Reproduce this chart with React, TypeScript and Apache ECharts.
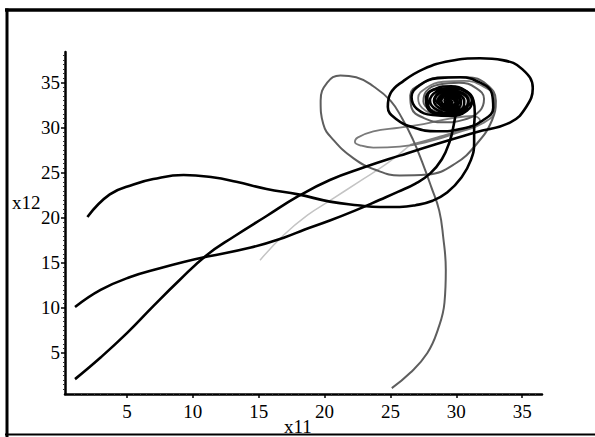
import React, { useEffect, useRef } from "react";
import * as echarts from "echarts";

// Tick values
const xTickValues = [5, 10, 15, 20, 25, 30, 35];
const yTickValues = [5, 10, 15, 20, 25, 30, 35];
const xMinorTicks = [1, 1.5, 2, 2.5, 3, 3.5, 4, 4.5, 5.5, 6, 6.5, 7, 7.5, 8, 8.5, 9, 9.5, 10.5, 11, 11.5, 12, 12.5, 13, 13.5, 14, 14.5, 15.5, 16, 16.5, 17, 17.5, 18, 18.5, 19, 19.5, 20.5, 21, 21.5, 22, 22.5, 23, 23.5, 24, 24.5, 25.5, 26, 26.5, 27, 27.5, 28, 28.5, 29, 29.5, 30.5, 31, 31.5, 32, 32.5, 33, 33.5, 34, 34.5, 35.5, 36];
const yMinorTicks = [1, 1.5, 2, 2.5, 3, 3.5, 4, 4.5, 5.5, 6, 6.5, 7, 7.5, 8, 8.5, 9, 9.5, 10.5, 11, 11.5, 12, 12.5, 13, 13.5, 14, 14.5, 15.5, 16, 16.5, 17, 17.5, 18, 18.5, 19, 19.5, 20.5, 21, 21.5, 22, 22.5, 23, 23.5, 24, 24.5, 25.5, 26, 26.5, 27, 27.5, 28, 28.5, 29, 29.5, 30.5, 31, 31.5, 32, 32.5, 33, 33.5, 34, 34.5, 35.5, 36, 36.5, 37, 37.5, 38];

// Trajectories (x11, x12)
const trajectoryA: [number, number][] = [
  [2.0, 20.1], [3.7, 22.6], [5.5, 23.7], [7.0, 24.3], [9.3, 24.75], [11.5, 24.5], [13.3, 24.0],
  [15.6, 23.2], [18.0, 22.6], [20.4, 21.8], [22.5, 21.4], [24.2, 21.2], [25.7, 21.2], [26.9, 21.4],
  [28.2, 21.9], [29.3, 22.8], [30.4, 24.5], [31.1, 26.4], [31.35, 28.3], [31.35, 30.1], [31.4, 31.6],
  [31.3, 33.0], [30.7, 34.1], [29.6, 34.6], [28.4, 34.3], [27.7, 33.3], [27.8, 32.2], [28.6, 31.5],
  [29.7, 31.4], [30.6, 32.0], [30.9, 33.0], [30.4, 33.8], [29.5, 34.0], [28.8, 33.5], [28.7, 32.7],
  [29.3, 32.3], [29.9, 32.6], [30.0, 33.2], [29.6, 33.4], [29.3, 33.0], [29.6, 32.8],
];

const trajectoryB: [number, number][] = [
  [1.06, 10.1], [3.0, 12.0], [5.2, 13.4], [7.5, 14.4], [9.3, 15.1], [11.1, 15.7], [14.4, 16.7],
  [16.9, 17.8], [18.5, 18.7], [20.4, 19.7], [22.3, 20.8], [24.2, 22.0], [25.6, 22.9], [26.9, 23.8],
  [28.0, 24.9], [28.9, 26.5], [29.5, 28.5], [29.8, 30.3], [30.0, 32.0], [30.1, 33.4],
  [29.6, 34.3], [28.5, 34.3], [27.8, 33.4], [27.9, 32.3], [28.7, 31.6], [29.8, 31.6], [30.7, 32.3],
  [31.2, 33.0], [30.7, 34.0], [29.6, 34.4], [28.5, 34.0], [28.0, 33.0], [28.5, 32.0], [29.6, 31.6],
  [30.7, 32.0], [30.9, 33.0], [30.5, 33.8], [29.6, 34.15], [28.7, 33.8], [28.3, 33.0], [28.7, 32.2],
  [29.6, 31.85], [30.5, 32.2], [30.6, 33.0], [30.3, 33.6], [29.6, 33.9], [28.9, 33.6], [28.6, 33.0],
  [28.9, 32.4], [29.6, 32.1], [30.3, 32.4], [30.35, 33.0], [30.1, 33.5], [29.6, 33.7], [29.1, 33.5],
  [28.85, 33.0], [29.1, 32.5], [29.6, 32.3], [30.1, 32.5], [30.1, 33.0], [29.95, 33.3], [29.6, 33.45],
  [29.25, 33.3], [29.1, 33.0], [29.25, 32.7], [29.6, 32.55], [29.95, 32.7], [29.9, 33.0], [29.6, 33.25],
  [29.3, 33.0], [29.6, 32.75], [29.75, 32.95],
];

const trajectoryC: [number, number][] = [
  [1.06, 2.1], [3.0, 4.5], [5.0, 7.2], [7.0, 10.2], [9.0, 13.1], [11.0, 15.8], [13.1, 17.9],
  [15.6, 20.2], [18.0, 22.4], [20.4, 24.2], [23.0, 25.6], [25.7, 26.9], [28.5, 28.2], [31.5, 29.5],
  [34.1, 30.6], [35.3, 32.3], [35.8, 34.4], [35.0, 36.5], [33.5, 37.5], [31.8, 37.7], [29.5, 37.4],
  [27.5, 36.5], [26.0, 35.2], [25.0, 33.8], [24.8, 32.3], [25.4, 31.0], [26.8, 30.0], [28.5, 29.6],
  [30.5, 29.9], [32.0, 30.8], [32.8, 32.2], [32.7, 33.8], [31.8, 35.0], [30.3, 35.6], [28.6, 35.5],
  [27.2, 34.7], [26.6, 33.4], [27.0, 32.1], [28.2, 31.4], [29.6, 31.3], [30.8, 31.9], [31.2, 33.0],
  [30.8, 34.0], [29.8, 34.4], [28.8, 34.0], [28.4, 33.2], [28.9, 32.5], [29.7, 32.4], [30.3, 33.0],
  [30.0, 33.6], [29.5, 33.5], [29.4, 33.1], [29.7, 33.0],
];

const trajectoryD: [number, number][] = [
  [25.1, 1.1], [26.5, 2.8], [27.8, 5.0], [28.6, 7.6], [29.1, 10.6], [29.2, 14.2], [29.0, 17.9],
  [28.7, 20.8], [28.1, 23.4], [27.4, 26.2], [26.7, 28.7], [25.9, 31.0], [25.0, 33.0], [23.7, 34.6],
  [22.4, 35.6], [21.2, 35.8], [20.2, 35.0], [19.7, 33.0], [19.9, 30.4], [20.7, 28.6], [22.2, 26.6],
  [23.9, 25.3], [25.7, 24.7], [27.8, 24.8], [29.9, 26.0], [31.6, 28.3], [32.7, 30.8], [33.0, 33.0],
  [32.3, 34.8], [30.8, 35.6], [29.0, 35.6], [27.4, 34.9], [26.5, 33.6], [26.6, 32.2], [27.5, 31.1],
  [29.0, 30.6], [30.6, 30.9], [31.8, 31.9], [32.1, 33.2], [31.5, 34.4], [30.2, 35.0], [28.7, 34.8],
  [27.7, 34.0], [27.5, 32.9], [28.1, 32.0], [29.2, 31.6], [30.4, 31.9], [31.0, 32.8], [30.7, 33.7],
  [29.8, 34.1], [28.9, 33.8], [28.6, 33.1], [29.0, 32.5], [29.7, 32.4], [30.2, 32.9], [29.9, 33.4],
  [29.4, 33.3], [29.4, 32.9], [29.7, 32.9],
];

const trajectoryE: [number, number][] = [
  [15.1, 15.3], [16.9, 18.1], [18.7, 20.3], [20.4, 21.9], [22.6, 24.0], [24.8, 26.1], [26.5, 28.1],
];

const trajectoryE2: [number, number][] = [
  [26.5, 28.1], [28.5, 28.9], [30.4, 29.8], [31.8, 30.8], [31.3, 31.3], [29.5, 31.0], [27.5, 30.4],
  [25.7, 30.0], [23.7, 29.6], [22.5, 28.9], [22.3, 28.4], [22.8, 28.0], [23.7, 27.8], [25.7, 27.9],
  [28.0, 28.5], [30.2, 29.5], [32.0, 30.5], [32.9, 31.9], [32.9, 33.4], [32.0, 34.6], [30.6, 35.2],
  [29.0, 35.1], [27.7, 34.4], [27.1, 33.3], [27.4, 32.2], [28.4, 31.6], [29.7, 31.6], [30.7, 32.2],
  [31.0, 33.1], [30.5, 33.9], [29.6, 34.1], [28.9, 33.6], [28.8, 32.9], [29.3, 32.5], [29.9, 32.7],
  [30.0, 33.2], [29.6, 33.3], [29.5, 33.0],
];

const FONT = "Liberation Serif";

export default function App() {
  const ref = useRef<HTMLDivElement>(null);
  useEffect(() => {
    if (!ref.current) return;
    const chart = echarts.init(ref.current, undefined, { renderer: "svg" });
    const line = (data: [number, number][], color: string, width: number, z: number) => ({
      type: "line",
      data,
      showSymbol: false,
      symbol: "none",
      smooth: 0.45,
      z,
      lineStyle: { color, width },
    });
    chart.setOption({
      animation: false,
      backgroundColor: "#ffffff",
      grid: { left: 65, right: 53, top: 52, bottom: 43 },
      xAxis: [
        {
          type: "value",
          min: 0.3,
          max: 36.5,
          axisLine: { show: true, onZero: false, lineStyle: { color: "#000", width: 2.5 } },
          axisTick: { show: true, customValues: xTickValues, length: 4, lineStyle: { color: "#000", width: 1.5 } },
          axisLabel: { customValues: xTickValues, color: "#000", fontFamily: FONT, fontSize: 19, margin: 8 },
          splitLine: { show: false },
        },
        {
          type: "value",
          min: 0.3,
          max: 36.5,
          position: "bottom",
          axisLine: { show: false },
          axisTick: { show: true, customValues: xMinorTicks, length: 2, lineStyle: { color: "#333", width: 1 } },
          axisLabel: { show: false },
          splitLine: { show: false },
        },
      ],
      yAxis: [
        {
          type: "value",
          min: 0.45,
          max: 38.4,
          axisLine: { show: true, onZero: false, lineStyle: { color: "#000", width: 2.5 } },
          axisTick: { show: true, customValues: yTickValues, length: 4, lineStyle: { color: "#000", width: 1.5 } },
          axisLabel: { customValues: yTickValues, color: "#000", fontFamily: FONT, fontSize: 19, margin: 5 },
          splitLine: { show: false },
        },
        {
          type: "value",
          min: 0.45,
          max: 38.4,
          position: "left",
          axisLine: { show: false },
          axisTick: { show: true, customValues: yMinorTicks, length: 2, lineStyle: { color: "#333", width: 1 } },
          axisLabel: { show: false },
          splitLine: { show: false },
        },
      ],
      series: [
        line(trajectoryE, "#c4c4c4", 1.5, 1),
        line(trajectoryE2, "#7a7a7a", 1.8, 2),
        line(trajectoryD, "#5e5e5e", 2, 3),
        line(trajectoryA, "#000000", 2.6, 4),
        line(trajectoryB, "#000000", 2.6, 5),
        line(trajectoryC, "#000000", 2.6, 6),
      ],
      graphic: [
        { type: "line", shape: { x1: 5, y1: 10, x2: 595, y2: 10 }, style: { stroke: "#000", lineWidth: 3.5 } },
        { type: "line", shape: { x1: 7, y1: 8.5, x2: 7, y2: 437 }, style: { stroke: "#000", lineWidth: 3 } },
        { type: "line", shape: { x1: 5, y1: 434.5, x2: 595, y2: 434.5 }, style: { stroke: "#000", lineWidth: 2 } },
        {
          type: "text",
          left: 12,
          top: 193,
          style: { text: "x12", font: `19px "${FONT}"`, fill: "#000" },
        },
        {
          type: "text",
          left: 284,
          top: 417,
          style: { text: "x11", font: `19px "${FONT}"`, fill: "#000" },
        },
      ],
    });
    return () => chart.dispose();
  }, []);
  return (
    <div
      ref={ref}
      style={{ position: "absolute", left: 0, top: 0, width: 595, height: 437, background: "#fff" }}
    />
  );
}
